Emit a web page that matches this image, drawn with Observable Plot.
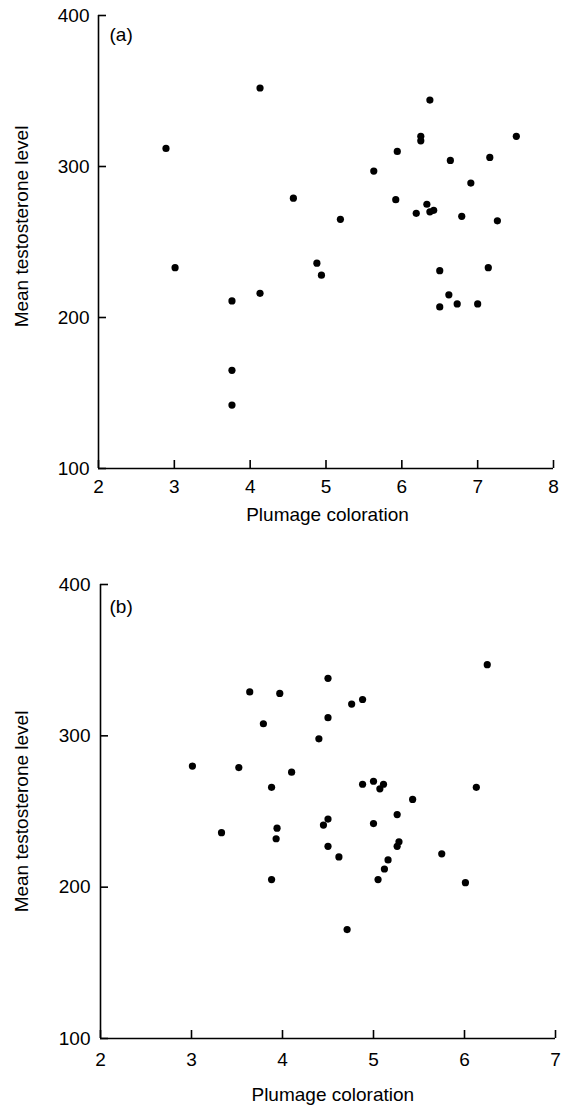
<!DOCTYPE html>
<html>
<head>
<meta charset="utf-8">
<script src="https://cdn.jsdelivr.net/npm/d3@7"></script>
<script src="https://cdn.jsdelivr.net/npm/@observablehq/plot@0.6"></script>
<style>
  html, body { margin: 0; padding: 0; background: #fff; }
  #chart svg { display: block; }
</style>
</head>
<body>
<div id="chart"></div>
<script>
// Panel (a)
const aLabel = "(a)";
const aColoration = [2.89, 4.13, 6.37, 6.25, 6.25, 7.51, 5.94, 6.64, 7.16, 5.63, 6.91, 4.57, 5.92, 6.33, 6.37, 6.42, 6.19, 6.79, 5.19, 7.26,
  4.88, 4.94, 6.50, 7.14, 6.62, 6.50, 6.73, 7.00, 3.01, 3.76, 4.13, 3.76, 3.76];
const aTestosterone = [312, 352, 344, 320, 317, 320, 310, 304, 306, 297, 289, 279, 278, 275, 270, 271, 269, 267, 265, 264,
  236, 228, 231, 233, 215, 207, 209, 209, 233, 211, 216, 165, 142];
const aXTicks = [2, 3, 4, 5, 6, 7, 8];
const aYTicks = [100, 200, 300, 400];

// Panel (b)
const bLabel = "(b)";
const bColoration = [3.64, 3.97, 3.79, 3.01, 3.52, 3.88, 4.10, 6.25, 4.50, 4.88, 4.76, 4.50, 4.40, 4.88, 5.00, 5.11, 5.07, 6.13, 5.43,
  5.26, 4.50, 5.00, 4.45, 3.94, 3.93, 3.33, 3.88, 5.28, 5.26, 4.50, 4.62, 5.16, 5.12, 5.05, 5.75, 6.01, 4.71];
const bTestosterone = [329, 328, 308, 280, 279, 266, 276, 347, 338, 324, 321, 312, 298, 268, 270, 268, 265, 266, 258,
  248, 245, 242, 241, 239, 232, 236, 205, 230, 227, 227, 220, 218, 212, 205, 222, 203, 172];
const bXTicks = [2, 3, 4, 5, 6, 7];
const bYTicks = [100, 200, 300, 400];

const xTitle = "Plumage coloration";
const yTitle = "Mean testosterone level";

const font = "'Liberation Sans', Arial, Helvetica, sans-serif";
const sw = 1.6;

function panel({coloration, testosterone, xTicks, yTicks, label, height, mt, mb, ml, mr,
                xPad, yPad, xTitleDy, xTitleDx, yTitleDx, yTitleDy, labDx, labDy}) {
  const data = coloration.map((c, i) => ({c, t: testosterone[i]}));
  const width = 566;
  const fw = width - ml - mr;
  const fh = height - mt - mb;
  return Plot.plot({
    width, height,
    marginTop: mt, marginBottom: mb, marginLeft: ml, marginRight: mr,
    style: {fontSize: "19px", fontFamily: font, background: "white", color: "black", overflow: "visible"},
    x: {domain: [xTicks[0], xTicks[xTicks.length - 1]]},
    y: {domain: [yTicks[0], yTicks[yTicks.length - 1]]},
    marks: [
      Plot.axisX({ticks: xTicks, tickSize: 0, tickPadding: xPad, label: null, tickFormat: d => String(d)}),
      Plot.axisY({ticks: yTicks, tickSize: 0, tickPadding: yPad, label: null, tickFormat: d => String(d)}),
      Plot.tickX(xTicks, {x: d => d, insetTop: fh - 8, stroke: "black", strokeWidth: sw}),
      Plot.tickY(yTicks, {y: d => d, insetRight: fw - 8, stroke: "black", strokeWidth: sw}),
      Plot.ruleX([xTicks[0]], {stroke: "black", strokeWidth: sw}),
      Plot.ruleY([yTicks[0]], {stroke: "black", strokeWidth: sw}),
      Plot.dot(data, {x: "c", y: "t", r: 3.6, fill: "black", stroke: "none"}),
      Plot.text([label], {frameAnchor: "top-left", textAnchor: "start", dx: labDx, dy: labDy, fontSize: 19, fill: "black"}),
      Plot.text([xTitle], {frameAnchor: "bottom", textAnchor: "middle", lineAnchor: "top", dx: xTitleDx, dy: xTitleDy, fontSize: 19, fill: "black"}),
      Plot.text([yTitle], {frameAnchor: "left", textAnchor: "middle", rotate: -90, dx: yTitleDx, dy: yTitleDy, fontSize: 19, fill: "black"})
    ]
  });
}

const chart = document.getElementById("chart");
chart.appendChild(panel({
  coloration: aColoration, testosterone: aTestosterone, xTicks: aXTicks, yTicks: aYTicks, label: aLabel,
  height: 530, mt: 15, mb: 62, ml: 98, mr: 13,
  xPad: 11, yPad: 9, xTitleDy: 39, xTitleDx: 1.5, yTitleDx: -77, yTitleDy: -15.5, labDx: 11, labDy: 12
}));
chart.appendChild(panel({
  coloration: bColoration, testosterone: bTestosterone, xTicks: bXTicks, yTicks: bYTicks, label: bLabel,
  height: 575, mt: 54, mb: 67, ml: 100, mr: 11,
  xPad: 14, yPad: 10, xTitleDy: 49, xTitleDx: 4.8, yTitleDx: -79, yTitleDy: 0, labDx: 9, labDy: 15
}));
</script>
</body>
</html>
